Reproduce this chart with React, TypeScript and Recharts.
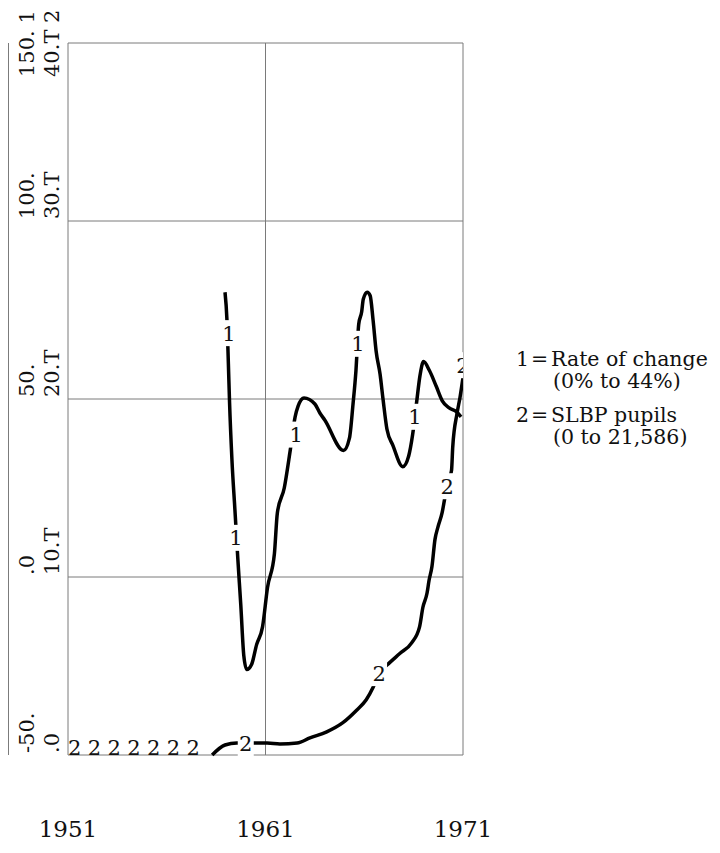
import React from 'react';
import { ComposedChart, Line, Scatter, XAxis, YAxis, CartesianGrid } from 'recharts';

// ---- data ----
const rateYears = [1958.95, 1959.05, 1959.12, 1959.18, 1959.3, 1959.45, 1959.6, 1959.75, 1959.9, 1960.05, 1960.3, 1960.55, 1960.85, 1961.1, 1961.45, 1961.6, 1961.95, 1962.25, 1962.5, 1962.65, 1962.95, 1963.5, 1963.76, 1964.0, 1964.95, 1965.25, 1965.43, 1965.58, 1965.72, 1965.87, 1965.95, 1966.15, 1966.3, 1966.45, 1966.6, 1966.8, 1966.95, 1967.15, 1967.45, 1967.95, 1968.25, 1968.45, 1968.65, 1968.82, 1969.0, 1969.3, 1969.65, 1969.95, 1970.3, 1970.65, 1970.9];
const rateValues = [80, 72, 60, 49, 33, 19, 5, -8, -22, -26, -24.5, -19, -14, -3, 6.5, 18, 25, 35.5, 45, 48, 50.3, 48.6, 46, 44.1, 35.5, 39, 48.5, 58, 71, 74.5, 78, 80, 79, 72, 63.5, 57, 50, 41.5, 37, 31, 34, 40, 49, 56.5, 60.5, 58, 53.5, 49.5, 47.5, 46.5, 45];

const pupilYears = [1958.3, 1958.95, 1959.55, 1960.57, 1961.08, 1961.73, 1962.6, 1963.25, 1964.1, 1964.9, 1965.6, 1966.1, 1966.45, 1966.75, 1967.15, 1967.8, 1968.4, 1968.8, 1968.97, 1969.18, 1969.28, 1969.43, 1969.58, 1969.73, 1969.94, 1970.09, 1970.2, 1970.42, 1970.48, 1970.7, 1970.85, 1971.0];
const pupilValues = [0, 0.56, 0.67, 0.67, 0.67, 0.62, 0.67, 0.96, 1.3, 1.8, 2.5, 3.1, 3.8, 4.6, 5.05, 5.7, 6.3, 7.2, 8.3, 9.1, 9.8, 10.6, 12.1, 12.8, 13.6, 14.5, 15.1, 16.0, 17.3, 19.2, 20.1, 21.2];

const rateLabelYears = [1959.15, 1959.5, 1962.55, 1965.68, 1968.57];
const rateLabelValues = [68.5, 11, 40, 65.5, 45];

const pupilLabelYears = [1960.0, 1966.75, 1970.2, 1971.0];
const pupilLabelValues = [0.67, 4.6, 15.1, 21.9];

const pupilEarlyYears = [1951, 1952, 1953, 1954, 1955, 1956, 1957];
const pupilEarlyValues = [0, 0, 0, 0, 0, 0, 0];

const yearTicks = [1951, 1961, 1971];
const rateTicks = [-50, 0, 50, 100, 150];
const rateTickLabels = ['-50.', '.0', '50.', '100.', '150. 1'];
const pupilTickLabels = ['.0', '10.T', '20.T', '30.T', '40.T 2'];

const legendKeys = ['1', '2'];
const legendNames = ['Rate of change', 'SLBP pupils'];
const legendRanges = ['(0% to 44%)', '(0 to 21,586)'];

// ---- tables built from the arrays ----
const rateData = rateYears.map((year, i) => ({ year, v: rateValues[i] }));
const pupilData = pupilYears.map((year, i) => ({ year, v: pupilValues[i] }));
const rateLabels = rateLabelYears.map((year, i) => ({ year, v: rateLabelValues[i] }));
const pupilLabels = pupilLabelYears.map((year, i) => ({ year, v: pupilLabelValues[i] }));
const pupilEarly = pupilEarlyYears.map((year, i) => ({ year, v: pupilEarlyValues[i] }));

// ---- layout ----
const W = 712;
const H = 837;
const TOP = 35;
const PLOT_BOTTOM = 747;
const FONT = '"DejaVu Serif", serif';
const YFONT = 21;

const XTick = (props: any) => {
  const { x, payload } = props;
  return (
    <text x={x} y={PLOT_BOTTOM + 82} textAnchor="middle" fontFamily={FONT} fontSize={23} fill="#111">
      {payload.value}
    </text>
  );
};

const YTick = (props: any) => {
  const { y, payload } = props;
  const idx = rateTicks.indexOf(payload.value);
  const by = Math.max(y - 2, 69);
  const x1 = 26;
  const x2 = 51;
  return (
    <g>
      <text x={x1} y={by} transform={`rotate(-90 ${x1} ${by})`} textAnchor="start" fontFamily={FONT} fontSize={YFONT} fill="#111">
        {rateTickLabels[idx]}
      </text>
      <text x={x2} y={by} transform={`rotate(-90 ${x2} ${by})`} textAnchor="start" fontFamily={FONT} fontSize={YFONT} fill="#111">
        {pupilTickLabels[idx]}
      </text>
    </g>
  );
};

const makeInlineLabel = (ch: string) => (props: any) => {
  const { cx, cy } = props;
  return (
    <g>
      <rect x={cx - 8} y={cy - 13} width={16} height={26} fill="#fff" />
      <text x={cx} y={cy + 7.5} textAnchor="middle" fontFamily={FONT} fontSize={21} fill="#111">
        {ch}
      </text>
    </g>
  );
};

const EarlyLabel = (props: any) => {
  const { cx, cy } = props;
  return (
    <text x={cx} y={cy} textAnchor="start" fontFamily={FONT} fontSize={21} fill="#111">
      2
    </text>
  );
};

const legendText = { position: 'absolute' as const, fontFamily: FONT, fontSize: 20.5, lineHeight: '22px', color: '#111', whiteSpace: 'pre' as const };

export default function App() {
  return (
    <div style={{ position: 'relative', width: W, height: H, background: '#fff' }}>
      <ComposedChart width={W} height={H} margin={{ top: TOP, right: 257, bottom: 0, left: 0 }}>
        <CartesianGrid yAxisId="rate" stroke="#7a7a7a" strokeWidth={1} />
        <XAxis
          dataKey="year"
          type="number"
          domain={[1951, 1971]}
          ticks={yearTicks}
          allowDataOverflow
          axisLine={false}
          tickLine={false}
          height={H - PLOT_BOTTOM}
          tick={<XTick />}
          interval={0}
        />
        <YAxis
          yAxisId="rate"
          type="number"
          domain={[-50, 150]}
          ticks={rateTicks}
          width={60}
          axisLine={{ stroke: '#333', strokeWidth: 1.3 }}
          tickLine={false}
          tick={<YTick />}
          interval={0}
        />
        <YAxis yAxisId="pupils" type="number" domain={[0, 40]} hide />
        <Line
          yAxisId="rate"
          data={rateData}
          dataKey="v"
          type="monotone"
          stroke="#000"
          strokeWidth={3.5}
          dot={false}
          isAnimationActive={false}
        />
        <Line
          yAxisId="pupils"
          data={pupilData}
          dataKey="v"
          type="monotone"
          stroke="#000"
          strokeWidth={3.5}
          dot={false}
          isAnimationActive={false}
        />
        <Scatter yAxisId="rate" data={rateLabels} dataKey="v" shape={makeInlineLabel('1')} isAnimationActive={false} />
        <Scatter yAxisId="pupils" data={pupilLabels} dataKey="v" shape={makeInlineLabel('2')} isAnimationActive={false} />
        <Scatter yAxisId="pupils" data={pupilEarly} dataKey="v" shape={<EarlyLabel />} isAnimationActive={false} />
      </ComposedChart>
      {legendKeys.map((k, i) => (
        <React.Fragment key={k}>
          <div style={{ ...legendText, left: 508, top: 340 + i * 56 }}>{k}</div>
          <div style={{ ...legendText, left: 523, top: 340 + i * 56 }}>=</div>
          <div style={{ ...legendText, left: 543, top: 340 + i * 56 }}>{legendNames[i]}</div>
          <div style={{ ...legendText, left: 545, top: 362 + i * 56 }}>{legendRanges[i]}</div>
        </React.Fragment>
      ))}
    </div>
  );
}
